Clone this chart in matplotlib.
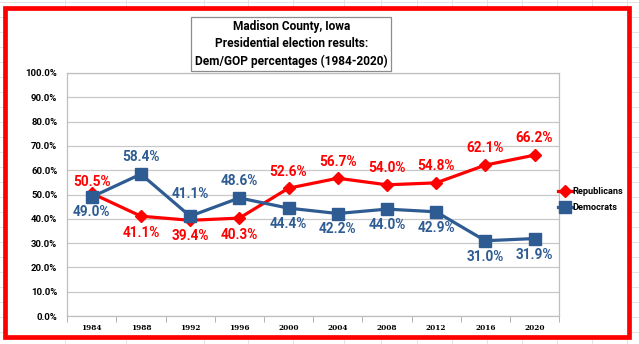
import matplotlib.pyplot as plt
from matplotlib.patches import Rectangle
from matplotlib.lines import Line2D
from matplotlib.ticker import FuncFormatter

plt.rcParams["font.family"] = ["Roboto", "DejaVu Sans"]

# Data
years = ["1984", "1988", "1992", "1996", "2000", "2004", "2008", "2012", "2016", "2020"]
republicans = [50.5, 41.1, 39.4, 40.3, 52.6, 56.7, 54.0, 54.8, 62.1, 66.2]
democrats = [49.0, 58.4, 41.1, 48.6, 44.4, 42.2, 44.0, 42.9, 31.0, 31.9]
# label offsets in points (positive = above the point)
rep_offsets = [8.5, -12, -11, -12, 12, 12, 12, 12, 12, 12]
dem_offsets = [-10.5, 12, 16, 12.5, -11.5, -11.5, -11.5, -11.5, -11.5, -11.5]

red = "#FF0000"
blue = "#2E5C92"

fig = plt.figure(figsize=(6.39, 3.44), dpi=100)

# faint spreadsheet cell grid behind the chart
for gx in [65, 126, 204, 248, 293, 344, 381, 417, 452, 487, 522, 557, 592, 627]:
    fig.add_artist(Line2D([gx / 639, gx / 639], [0, 1], color="#E3E3E3", lw=0.7, zorder=0))
for gy in range(2, 344, 15):
    fig.add_artist(Line2D([0, 1], [1 - gy / 344, 1 - gy / 344], color="#E3E3E3", lw=0.7, zorder=0))
fig.patches.append(Rectangle((0.0086, 0.019), 0.976, 0.958, transform=fig.transFigure,
                             fc="white", ec="none", zorder=0.5))

ax = fig.add_axes([0.105, 0.081, 0.770, 0.707])
ax.set_zorder(2)

x = list(range(len(years)))
ax.plot(x, republicans, color=red, lw=2.3, marker="D", ms=6.5, label="Republicans", zorder=3)
ax.plot(x, democrats, color=blue, lw=2.3, marker="s", ms=8, label="Democrats", zorder=3)

# data labels
for i in x:
    ax.annotate(f"{republicans[i]:.1f}%", (i, republicans[i]), xytext=(0, rep_offsets[i]),
                textcoords="offset points", ha="center", va="center",
                color=red, fontsize=9.8, fontweight="bold", zorder=4)
    ax.annotate(f"{democrats[i]:.1f}%", (i, democrats[i]), xytext=(0, dem_offsets[i]),
                textcoords="offset points", ha="center", va="center",
                color=blue, fontsize=9.8, fontweight="bold", zorder=4)

ax.set_xlim(-0.5, 9.5)
ax.set_ylim(0, 100)
ax.set_yticks(range(0, 101, 10))
ax.yaxis.set_major_formatter(FuncFormatter(lambda v, p: f"{v:.1f}%"))
ax.set_xticks(x)
ax.set_xticklabels(years, fontfamily="DejaVu Serif", fontweight="bold", fontsize=5.3)
ax.set_xticks([i - 0.5 for i in range(len(years) + 1)], minor=True)
ax.tick_params(axis="x", which="major", length=0, pad=5.5)
ax.tick_params(axis="x", which="minor", length=4, color="#A6A6A6", direction="out")
ax.tick_params(axis="y", length=0, labelsize=6.8, pad=7)
for lab in ax.get_yticklabels():
    lab.set_fontweight("bold")
ax.grid(axis="y", color="#C8C8C8", lw=0.9)
for s in ax.spines.values():
    s.set_color("#BFBFBF")
    s.set_linewidth(0.9)

leg = ax.legend(loc="upper left", bbox_to_anchor=(0.99, 0.545), frameon=False,
                prop={"weight": "bold", "size": 6.6}, handlelength=1.5,
                handletextpad=0.1, labelspacing=0.75, borderaxespad=0)

# title box
fig.text(0.456, 0.872, "Madison County, Iowa\nPresidential election results:\nDem/GOP percentages (1984-2020)",
         ha="center", va="center", fontsize=8.6, fontweight="bold", linespacing=1.4,
         bbox=dict(boxstyle="square,pad=0.3", fc="white", ec="#8C8C8C", lw=0.9))

# red frame around the chart
fig.patches.append(Rectangle((0.0086, 0.019), 0.976, 0.958, transform=fig.transFigure,
                             fill=False, ec=red, lw=3.4, zorder=5))

fig.savefig("out.png", dpi=100)
